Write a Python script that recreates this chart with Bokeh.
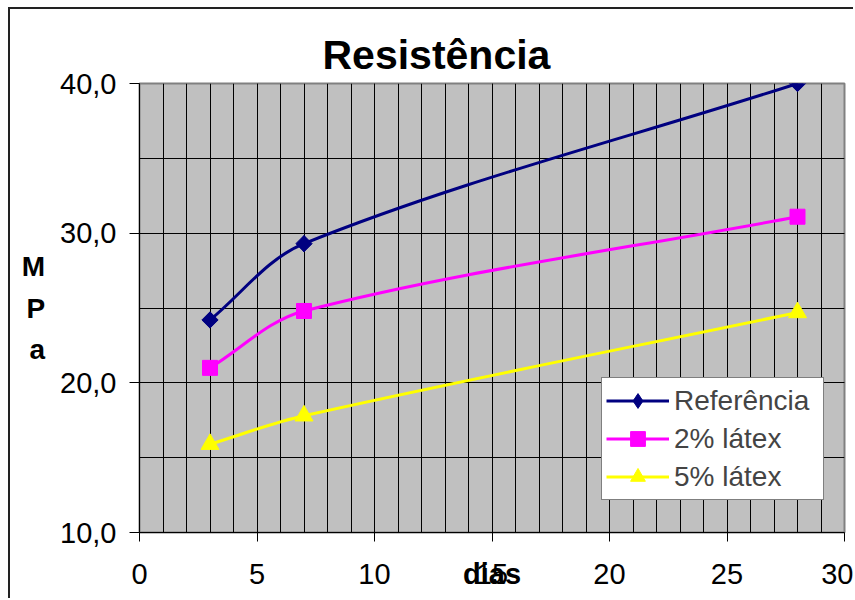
import math
from bokeh.plotting import figure
from bokeh.models import (Range1d, SingleIntervalTicker, CustomJSTickFormatter, Legend,
                          LegendItem, ColumnDataSource)
from bokeh.embed import file_html
from bokeh.resources import INLINE

# ---- data ----
dias = [3, 7, 28]
referencia = [24.2, 29.3, 40.0]
latex2 = [21.0, 24.8, 31.1]
latex5 = [15.9, 17.8, 24.7]
series_names = ["Referência", "2% látex", "5% látex"]

# ---- style ----
FONT = "Liberation Sans"
W, H = 845, 591
ML, MR, MT, MB = 129, 11, 74, 68
X0, X1, Y0, Y1 = 0, 30, 10, 40
SX = (W - ML - MR) / (X1 - X0)
SY = (H - MT - MB) / (Y1 - Y0)
K = 1 / 3

p = figure(width=W, height=H, output_backend="svg", toolbar_location=None,
           x_range=Range1d(X0, X1), y_range=Range1d(Y0, Y1),
           min_border_left=ML, min_border_right=MR, min_border_top=MT, min_border_bottom=MB,
           background_fill_color="#C0C0C0", border_fill_color="white",
           outline_line_color="#808080", outline_line_width=2,
           styles={"border-left": "2px solid #222", "border-top": "2px solid #222",
                   "margin-left": "8px", "margin-top": "7px"})

p.title.text = "Resistência"
p.title.align = "left"
p.title.offset = 183
p.title.text_font = FONT
p.title.text_font_size = "41px"
p.title.text_font_style = "bold"
p.title.text_color = "black"
p.title.standoff = 11

xt = SingleIntervalTicker(interval=5, num_minor_ticks=5)
yt = SingleIntervalTicker(interval=10, num_minor_ticks=2)
p.xaxis.ticker = xt
p.yaxis.ticker = yt
p.xgrid.ticker = xt
p.ygrid.ticker = yt
for g in (p.xgrid, p.ygrid):
    g.grid_line_color = "black"
    g.grid_line_width = 1
    g.minor_grid_line_color = "black"
    g.minor_grid_line_width = 1
p.yaxis.formatter = CustomJSTickFormatter(code="return tick.toFixed(1).replace('.', ',');")
for ax in (p.xaxis, p.yaxis):
    ax.axis_line_color = "black"
    ax.major_tick_line_color = "black"
    ax.minor_tick_line_color = None
    ax.major_tick_in = 0
    ax.major_label_text_font = FONT
    ax.major_label_text_font_size = "29px"
    ax.major_label_text_color = "black"
    ax.axis_label_text_font = FONT
    ax.axis_label_text_font_style = "bold"
    ax.axis_label_text_color = "black"
p.xaxis.major_tick_out = 9
p.xaxis.major_label_standoff = 22
p.yaxis.major_tick_out = 10
p.yaxis.major_label_standoff = 13

p.xaxis.axis_label = "dias"
p.xaxis.axis_label_text_font_size = "29px"
p.xaxis.axis_label_standoff = -29

p.yaxis.axis_label = "M\nP\na"
p.yaxis.axis_label_orientation = "horizontal"
p.yaxis.axis_label_text_font_size = "28px"
p.yaxis.axis_label_text_line_height = 1.33
p.yaxis.axis_label_standoff = 12


def smooth(xs, ys):
    px = [x * SX for x in xs]
    py = [y * SY for y in ys]
    n = len(xs)
    tans = []
    for i in range(n):
        a = max(i - 1, 0)
        b = min(i + 1, n - 1)
        dx, dy = px[b] - px[a], py[b] - py[a]
        L = math.hypot(dx, dy)
        tans.append((dx / L, dy / L))
    out = {k: [] for k in ("x0", "y0", "x1", "y1", "cx0", "cy0", "cx1", "cy1")}
    for i in range(n - 1):
        L = math.hypot(px[i + 1] - px[i], py[i + 1] - py[i])
        out["x0"].append(xs[i]); out["y0"].append(ys[i])
        out["x1"].append(xs[i + 1]); out["y1"].append(ys[i + 1])
        out["cx0"].append((px[i] + tans[i][0] * L * K) / SX)
        out["cy0"].append((py[i] + tans[i][1] * L * K) / SY)
        out["cx1"].append((px[i + 1] - tans[i + 1][0] * L * K) / SX)
        out["cy1"].append((py[i + 1] - tans[i + 1][1] * L * K) / SY)
    return out


styles = [
    dict(color="#000080", marker="diamond", size=16, top=("square", 11.5, math.pi / 4)),
    dict(color="#FF00FF", marker="square", size=15, top=None),
    dict(color="#FFFF00", marker="triangle", size=18, top=None),
]
items = []
for name, vals, st in zip(series_names, [referencia, latex2, latex5], styles):
    src = ColumnDataSource(smooth(dias, vals))
    br = p.bezier("x0", "y0", "x1", "y1", "cx0", "cy0", "cx1", "cy1", source=src,
                  line_color=st["color"], line_width=3)
    sr = p.scatter(dias, vals, marker=st["marker"], size=st["size"],
                   fill_color=st["color"], line_color=st["color"], line_width=1)
    if st["top"]:
        p.scatter(dias, vals, marker=st["top"][0], size=st["top"][1], angle=st["top"][2],
                  fill_color=st["color"], line_color=st["color"], line_width=1)
    items.append(LegendItem(label=name, renderers=[br, sr]))

legend = Legend(items=items, location=(462, 32), padding=4, spacing=1,
                glyph_width=63, glyph_height=37, label_height=37, label_width=145,
                label_standoff=5, label_text_font=FONT, label_text_font_size="28px",
                border_line_color="black", border_line_width=1,
                background_fill_color="white", background_fill_alpha=1,
                margin=0)
p.add_layout(legend, "center")

open("out.html", "w").write(file_html(p, INLINE))
